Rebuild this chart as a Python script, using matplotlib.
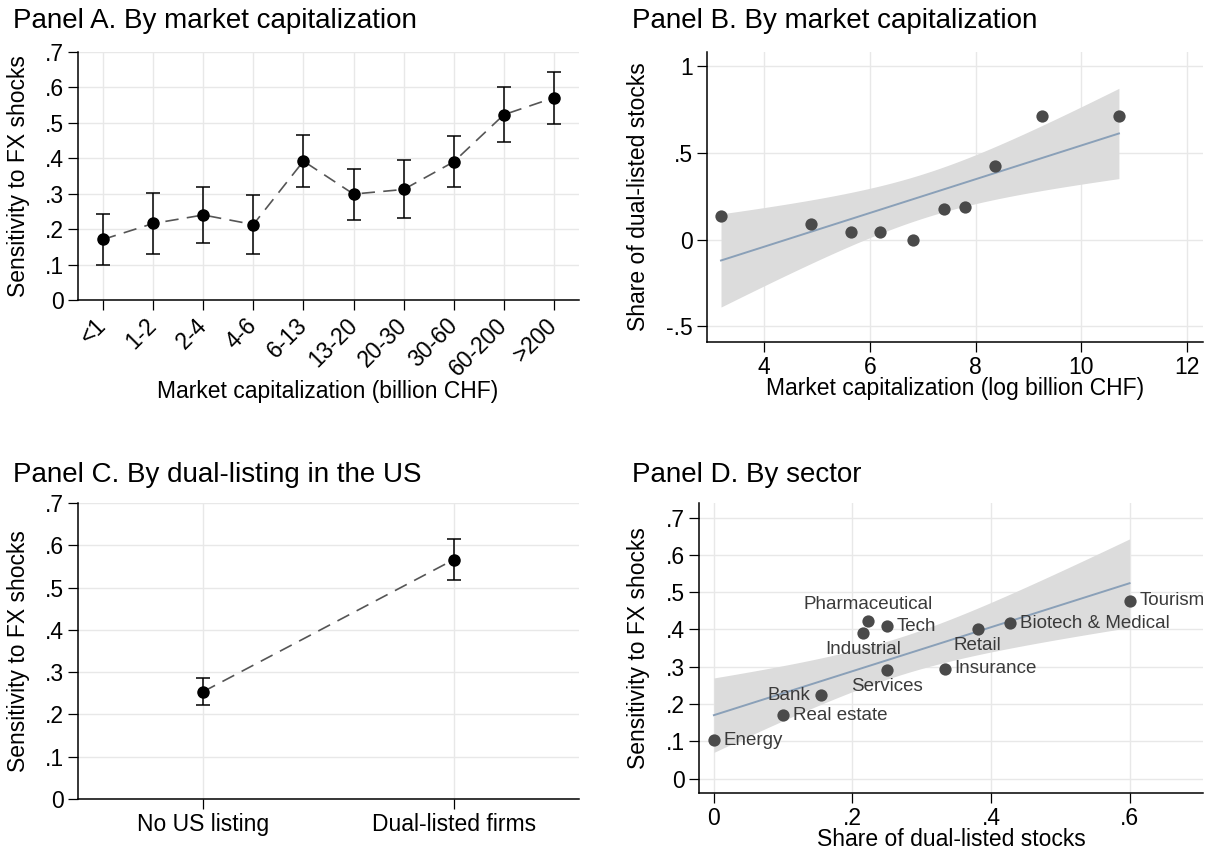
import numpy as np
import matplotlib
matplotlib.use("Agg")
import matplotlib.pyplot as plt
from matplotlib.ticker import FuncFormatter

plt.rcParams['font.family'] = ['Liberation Sans', 'DejaVu Sans']

# Panel A: sensitivity by market cap bucket
cap_buckets = ['<1', '1-2', '2-4', '4-6', '6-13', '13-20', '20-30', '30-60', '60-200', '>200']
cap_coef = [0.171, 0.216, 0.240, 0.213, 0.392, 0.299, 0.312, 0.390, 0.523, 0.571]
cap_lo = [0.100, 0.131, 0.160, 0.131, 0.318, 0.227, 0.231, 0.318, 0.445, 0.498]
cap_hi = [0.242, 0.301, 0.320, 0.296, 0.466, 0.371, 0.394, 0.462, 0.602, 0.643]

# Panel B: share of dual-listed stocks vs log market cap
logcap = [3.185, 4.895, 5.65, 6.20, 6.81, 7.40, 7.79, 8.36, 9.25, 10.71]
dual_share = [0.135, 0.092, 0.046, 0.046, 0.0, 0.180, 0.190, 0.427, 0.713, 0.713]

# Panel C: dual listing
listing_groups = ['No US listing', 'Dual-listed firms']
listing_coef = [0.254, 0.566]
listing_lo = [0.222, 0.518]
listing_hi = [0.286, 0.614]

# Panel D: sectors
sectors = ['Energy', 'Real estate', 'Bank', 'Industrial', 'Pharmaceutical', 'Tech',
           'Services', 'Insurance', 'Retail', 'Biotech & Medical', 'Tourism']
sector_share = [0.0, 0.100, 0.154, 0.215, 0.222, 0.250, 0.250, 0.333, 0.381, 0.428, 0.600]
sector_sens = [0.103, 0.170, 0.223, 0.391, 0.423, 0.409, 0.291, 0.295, 0.402, 0.416, 0.477]
label_pos = ['r', 'r', 'l', 'b', 't', 'r', 'b', 'r', 'b', 'r', 'r']

# two-sided 95% t critical values by df
T975 = {8: 2.306, 9: 2.262}

W, H = 1215, 855
GRID = '#e8e8e8'
DOT = '#4a4a4a'
FIT = '#8aa0b8'
SHADE = '#dcdcdc'
TICK_FS = 16.5
LABEL_FS = 16.5


def stata_fmt(v, pos=None):
    s = '%g' % round(v, 3)
    if s.startswith('0.'):
        s = s[1:]
    elif s.startswith('-0.'):
        s = '-' + s[2:]
    return s


def box(l, t, r, b):
    return [l / W, 1 - b / H, (r - l) / W, (b - t) / H]


def lfitci(x, y):
    x = np.asarray(x)
    y = np.asarray(y)
    n = len(x)
    b, a = np.polyfit(x, y, 1)
    resid = y - (a + b * x)
    s = np.sqrt(np.sum(resid ** 2) / (n - 2))
    sxx = np.sum((x - x.mean()) ** 2)
    g = np.linspace(x.min(), x.max(), 200)
    fit = a + b * g
    se = s * np.sqrt(1.0 / n + (g - x.mean()) ** 2 / sxx)
    t = T975[n - 2]
    return g, fit, fit - t * se, fit + t * se


def style(ax):
    for sp in ['top', 'right']:
        ax.spines[sp].set_visible(False)
    for sp in ['left', 'bottom']:
        ax.spines[sp].set_linewidth(1.1)
    ax.grid(True, color=GRID, lw=1.0)
    ax.set_axisbelow(True)
    ax.tick_params(direction='out', length=7, width=0.9, labelsize=TICK_FS, pad=3)
    ax.yaxis.set_major_formatter(FuncFormatter(stata_fmt))


fig = plt.figure(figsize=(W / 100, H / 100), dpi=100)

# ---- Panel A
axA = fig.add_axes(box(78, 52, 579, 300))
xA = np.arange(len(cap_buckets))
axA.plot(xA, cap_coef, color='#555555', lw=1.2, ls=(0, (8, 5)), zorder=2)
axA.errorbar(xA, cap_coef,
             yerr=[np.array(cap_coef) - np.array(cap_lo), np.array(cap_hi) - np.array(cap_coef)],
             fmt='none', ecolor='black', elinewidth=1.1, capsize=5, capthick=1.1, zorder=3)
axA.plot(xA, cap_coef, 'o', color='black', ms=8, zorder=4)
axA.set_xlim(-0.5, len(cap_buckets) - 0.5)
axA.set_ylim(0, 0.7)
axA.set_yticks(np.arange(0, 0.71, 0.1))
axA.set_xticks(xA)
axA.set_xticklabels(cap_buckets, rotation=45, ha='right', va='center', rotation_mode='anchor')
style(axA)
axA.tick_params(axis='x', pad=9)
axA.set_ylabel('Sensitivity to FX shocks', fontsize=LABEL_FS)
axA.yaxis.set_label_coords(30 / W, 1 - 176 / H, transform=fig.transFigure)
axA.set_xlabel('Market capitalization (billion CHF)', fontsize=LABEL_FS)
axA.xaxis.set_label_coords(328 / W, 1 - 380 / H, transform=fig.transFigure)

# ---- Panel B
axB = fig.add_axes(box(707, 52, 1203, 342))
g, fit, lo, hi = lfitci(logcap, dual_share)
axB.fill_between(g, lo, hi, color=SHADE, lw=0, zorder=1)
axB.plot(g, fit, color=FIT, lw=1.4, zorder=2)
axB.scatter(logcap, dual_share, s=78, color=DOT, zorder=3, linewidths=0)
axB.set_xlim(2.92, 12.3)
axB.set_ylim(-0.59, 1.083)
axB.set_xticks([4, 6, 8, 10, 12])
axB.set_yticks([-0.5, 0, 0.5, 1])
style(axB)
axB.set_ylabel('Share of dual-listed stocks', fontsize=LABEL_FS)
axB.yaxis.set_label_coords(650 / W, 1 - 197 / H, transform=fig.transFigure)
axB.set_xlabel('Market capitalization (log billion CHF)', fontsize=LABEL_FS)
axB.xaxis.set_label_coords(955 / W, 1 - 377 / H, transform=fig.transFigure)

# ---- Panel C
axC = fig.add_axes(box(78, 503, 579, 799))
xC = np.arange(len(listing_groups))
axC.plot(xC, listing_coef, color='#555555', lw=1.2, ls=(0, (8, 5)), zorder=2)
axC.errorbar(xC, listing_coef,
             yerr=[np.array(listing_coef) - np.array(listing_lo),
                   np.array(listing_hi) - np.array(listing_coef)],
             fmt='none', ecolor='black', elinewidth=1.1, capsize=5, capthick=1.1, zorder=3)
axC.plot(xC, listing_coef, 'o', color='black', ms=8, zorder=4)
axC.set_xlim(-0.5, 1.5)
axC.set_ylim(0, 0.7)
axC.set_yticks(np.arange(0, 0.71, 0.1))
axC.set_xticks(xC)
axC.set_xticklabels(listing_groups)
style(axC)
axC.set_ylabel('Sensitivity to FX shocks', fontsize=LABEL_FS)
axC.yaxis.set_label_coords(30 / W, 1 - 651 / H, transform=fig.transFigure)

# ---- Panel D
axD = fig.add_axes(box(699, 503, 1203, 793))
g, fit, lo, hi = lfitci(sector_share, sector_sens)
axD.fill_between(g, lo, hi, color=SHADE, lw=0, zorder=1)
axD.plot(g, fit, color=FIT, lw=1.4, zorder=2)
axD.scatter(sector_share, sector_sens, s=78, color=DOT, zorder=3, linewidths=0)
offsets = {'r': ((7, 0), 'left', 'center'), 'l': ((-7, 0), 'right', 'center'),
           't': ((0, 6), 'center', 'bottom'), 'b': ((0, -6), 'center', 'top')}
for name, xv, yv, p in zip(sectors, sector_share, sector_sens, label_pos):
    off, ha, va = offsets[p]
    axD.annotate(name, (xv, yv), xytext=off, textcoords='offset points',
                 ha=ha, va=va, fontsize=13.5, color='#3a3a3a', zorder=4)
axD.set_xlim(-0.0215, 0.706)
axD.set_ylim(-0.0387, 0.739)
axD.set_xticks([0, 0.2, 0.4, 0.6])
axD.set_yticks(np.arange(0, 0.71, 0.1))
axD.xaxis.set_major_formatter(FuncFormatter(stata_fmt))
style(axD)
axD.set_ylabel('Sensitivity to FX shocks', fontsize=LABEL_FS)
axD.yaxis.set_label_coords(650 / W, 1 - 648 / H, transform=fig.transFigure)
axD.set_xlabel('Share of dual-listed stocks', fontsize=LABEL_FS)
axD.xaxis.set_label_coords(951 / W, 1 - 828 / H, transform=fig.transFigure)

# panel titles
for txt, x, y in [('Panel A. By market capitalization', 13, 28),
                  ('Panel B. By market capitalization', 632, 28),
                  ('Panel C. By dual-listing in the US', 13, 482),
                  ('Panel D. By sector', 632, 482)]:
    fig.text(x / W, 1 - y / H, txt, fontsize=20, va='baseline', ha='left')

fig.savefig('out.png', dpi=100, facecolor='white')
